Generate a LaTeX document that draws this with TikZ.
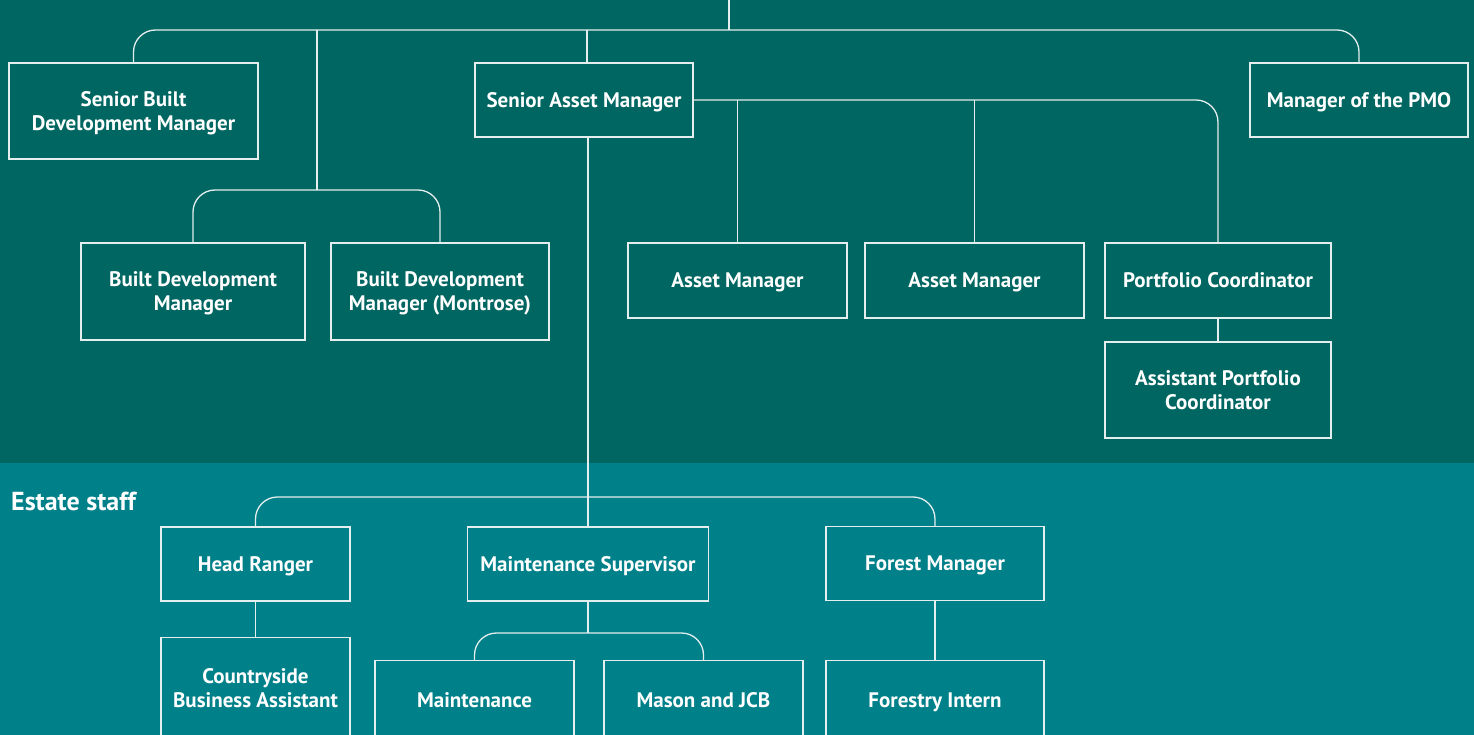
\documentclass[tikz,border=0pt]{standalone}
\usepackage{fontspec}
\setmainfont{PT Sans}
\usetikzlibrary{positioning}
\definecolor{darkteal}{RGB}{0,102,97}
\definecolor{lightteal}{RGB}{0,128,137}
\definecolor{rule}{RGB}{228,238,238}
\begin{document}
\begin{tikzpicture}[x=1pt,y=-1pt,
    role/.style={draw=rule,line width=1.3pt,text=white,font=\bfseries\fontsize{21}{24}\selectfont,align=center,inner sep=0pt,text depth=0pt},
    link/.style={draw=rule,line width=1.3pt,rounded corners=22pt}]
      \useasboundingbox (0,0) rectangle (1474,735);
      \clip (0,0) rectangle (1474,735);
      \fill[darkteal] (0,0) rectangle (1474,463);
      \fill[lightteal] (0,463) rectangle (1474,735);
      % head of estates, cut off at the top
      \node[role,minimum width=289pt,minimum height=60pt,anchor=south] (head) at (726.5,0) {};
      \coordinate (bar) at (729,30);
      \node[role,minimum width=249pt,minimum height=96pt] (sbdm) at (133.5,111) {Senior Built\\Development Manager};
      \node[role,minimum width=218pt,minimum height=74pt] (sam) at (584,100) {Senior Asset Manager};
      \node[role,minimum width=218pt,minimum height=74pt] (pmo) at (1359,100) {Manager of the PMO};
      \node[role,minimum width=224pt,minimum height=97pt] (bdm) at (193,291.5) {Built Development\\Manager};
      \node[role,minimum width=218pt,minimum height=97pt] (bdmm) at (440,291.5) {Built Development\\Manager (Montrose)};
      \node[role,minimum width=219pt,minimum height=75pt] (am1) at (737.5,280.5) {Asset Manager};
      \node[role,minimum width=219pt,minimum height=75pt] (am2) at (974.5,280.5) {Asset Manager};
      \node[role,minimum width=226pt,minimum height=75pt] (pc) at (1218,280.5) {Portfolio Coordinator};
      \node[role,minimum width=226pt,minimum height=96pt] (apc) at (1218,390) {Assistant Portfolio\\Coordinator};
      % estate staff
      \node[text=white,font=\bfseries\fontsize{26}{30}\selectfont,anchor=base west,inner sep=0pt] (estate) at (11,510) {Estate staff};
      \node[role,minimum width=189pt,minimum height=74pt] (hr) at (255.5,564) {Head Ranger};
      \node[role,minimum width=241pt,minimum height=74pt] (ms) at (588,564) {Maintenance Supervisor};
      \node[role,minimum width=218pt,minimum height=74pt] (fm) at (935,563.5) {Forest Manager};
      \node[role,minimum width=189pt,minimum height=100pt,anchor=north] (cba) at (255.5,637) {Countryside\\Business Assistant};
      \node[role,minimum width=199pt,minimum height=78pt,anchor=north] (mnt) at (474.5,660) {Maintenance};
      \node[role,minimum width=199pt,minimum height=78pt,anchor=north] (mjcb) at (703.5,660) {Mason and JCB};
      \node[role,minimum width=218pt,minimum height=78pt,anchor=north] (fi) at (935,660) {Forestry Intern};
      % connectors
      \draw[link] (head.south -| bar) -- (bar);
      \draw[link] (sbdm.north) |- (bar) -| (pmo.north);
      \coordinate (bdfork) at (317,190);
      \draw[link] (bdfork |- bar) -- (bdfork);
      \draw[link] (bdm.north) |- (bdfork) -| (bdmm.north);
      \draw[link] (sam.north -| 587,0) -- (bar -| 587,0);
      \draw[link] (sam.east) -| (pc.north);
      \draw[link] (am1.north) -- (am1.north |- sam.east);
      \draw[link] (am2.north) -- (am2.north |- sam.east);
      \draw[link] (pc) -- (apc);
      \coordinate (estbar) at (588,497);
      \draw[link] (ms.north |- sam.south) -- (ms.north);
      \draw[link] (hr.north) |- (estbar) -| (fm.north);
      \coordinate (mbar) at (588,633);
      \draw[link] (ms.south) -- (mbar);
      \draw[link] (mnt.north) |- (mbar) -| (mjcb.north);
      \draw[link] (hr) -- (cba);
      \draw[link] (fm) -- (fi);
    \end{tikzpicture}
\end{document}
